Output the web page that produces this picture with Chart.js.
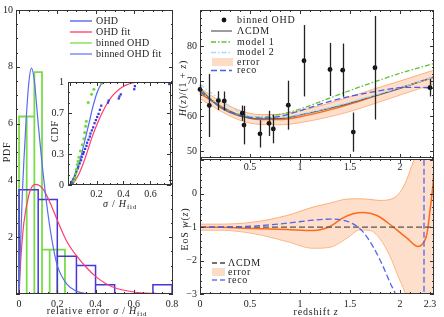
<!DOCTYPE html>
<html>
<head>
<meta charset="utf-8">
<script src="https://cdn.jsdelivr.net/npm/chart.js@4.4.1/dist/chart.umd.min.js"></script>
<style>
  html, body { margin: 0; padding: 0; background: #fff; }
  #wrap { position: relative; width: 444px; height: 317px; overflow: hidden; }
  canvas { position: absolute; }
</style>
</head>
<body>
<div id="wrap">
  <canvas id="pdf" width="184" height="317" style="left:0;top:0"></canvas>
  <canvas id="cdf" width="140" height="142" style="left:40px;top:72px"></canvas>
  <canvas id="eos" width="274" height="167" style="left:170px;top:150px"></canvas>
  <canvas id="hz" width="274" height="180" style="left:170px;top:0"></canvas>
</div>
<script>
// ---- left panel: PDF of relative errors ----
const ohdBinEdges = [0, 0.1, 0.2, 0.3, 0.4, 0.5, 0.6, 0.7, 0.8];
const ohdPdf = [3.67, 3.33, 1.33, 1.0, 0.33, 0, 0, 0.33];
const binnedBinEdges = [0, 0.04, 0.08, 0.12, 0.16, 0.2, 0.24];
const binnedPdf = [6.25, 6.25, 7.81, 1.56, 1.56, 1.56];
const ohdFitX = [0, 0.01, 0.025, 0.05, 0.07, 0.09, 0.11, 0.13, 0.16, 0.2, 0.25, 0.3, 0.35, 0.4, 0.45, 0.5, 0.6, 0.7, 0.8];
const ohdFitPdf = [0, 1.3, 2.5, 3.45, 3.8, 3.86, 3.8, 3.65, 3.25, 2.6, 1.85, 1.35, 0.95, 0.62, 0.38, 0.22, 0.07, 0.02, 0.005];
const binnedFitX = [0, 0.005, 0.017, 0.035, 0.052, 0.065, 0.08, 0.1, 0.12, 0.14, 0.16, 0.18, 0.2, 0.25, 0.3, 0.35, 0.4];
const binnedFitPdf = [0, 1.2, 3.5, 5.9, 7.5, 7.95, 7.5, 6.0, 4.6, 3.4, 2.4, 1.6, 1.0, 0.35, 0.1, 0.02, 0];
const pdfXLabels = [0, 0.2, 0.4, 0.6, 0.8];
const pdfYLabels = [2, 4, 6, 8, 10];

// ---- inset: CDF ----
const ohdCdfX = [0.02, 0.025, 0.03, 0.04, 0.045, 0.05, 0.06, 0.065, 0.075, 0.085, 0.09, 0.1, 0.105, 0.115, 0.125, 0.13, 0.14, 0.15, 0.155, 0.165, 0.175, 0.185, 0.195, 0.205, 0.215, 0.225, 0.235, 0.285, 0.29, 0.365, 0.37, 0.38, 0.48, 0.485, 0.74];
const ohdCdfY = [0.02, 0.04, 0.06, 0.09, 0.11, 0.13, 0.16, 0.18, 0.21, 0.24, 0.27, 0.30, 0.32, 0.35, 0.38, 0.41, 0.44, 0.47, 0.50, 0.53, 0.56, 0.60, 0.63, 0.66, 0.69, 0.73, 0.77, 0.80, 0.82, 0.84, 0.86, 0.88, 0.93, 0.96, 0.98];
const binnedCdfX = [0.02, 0.03, 0.04, 0.045, 0.05, 0.057, 0.063, 0.069, 0.08, 0.094, 0.106, 0.112, 0.119, 0.124, 0.138, 0.163, 0.18, 0.237];
const binnedCdfY = [0.0, 0.04, 0.07, 0.11, 0.15, 0.2, 0.23, 0.27, 0.33, 0.39, 0.45, 0.51, 0.57, 0.62, 0.8, 0.88, 0.93, 0.99];
const ohdFitCdfX = [0.02, 0.07, 0.119, 0.168, 0.218, 0.267, 0.316, 0.366, 0.415, 0.477, 0.563, 0.76];
const ohdFitCdfY = [0, 0.11, 0.275, 0.47, 0.634, 0.765, 0.863, 0.928, 0.967, 0.993, 1.0, 1.0];
const binnedFitCdfX = [0, 0.044, 0.081, 0.107, 0.144, 0.173, 0.205, 0.237, 0.28, 0.76];
const binnedFitCdfY = [0, 0.11, 0.26, 0.40, 0.60, 0.76, 0.90, 0.98, 1.0, 1.0];
const cdfXLabels = [0.2, 0.4, 0.6];
const cdfYLabels = [0, 0.3, 0.7, 1];

// ---- top right: H(z)/(1+z) ----
const ohdZ = [0.0, 0.093, 0.183, 0.243, 0.423, 0.44, 0.6, 0.69, 0.733, 0.883, 1.04, 1.3, 1.427, 1.533, 1.75, 2.3];
const ohdH = [67.6, 63.0, 64.4, 64.3, 60.8, 57.4, 54.9, 57.9, 56.3, 63.1, 75.8, 73.3, 73.1, 55.4, 73.8, 68.1];
const ohdErr = [1.5, 9.0, 2.7, 2.7, 2.2, 5.5, 3.9, 3.6, 4.1, 7.0, 10.2, 7.6, 7.6, 5.6, 14.8, 2.5];
const curveZ = [0, 0.2, 0.4, 0.6, 0.8, 1.0, 1.25, 1.5, 1.75, 2.0, 2.34];
const lcdmH = [67.7, 62.5, 60.0, 59.2, 59.3, 60.3, 61.9, 63.7, 65.8, 67.9, 71.2];
const meanH = [66.5, 62.9, 60.2, 59.0, 59.0, 59.8, 61.4, 63.4, 65.7, 68.0, 71.1];
const upperH = [68.0, 64.3, 61.6, 60.4, 60.5, 61.5, 63.3, 65.5, 67.8, 70.0, 73.1];
const lowerH = [65.0, 61.5, 58.8, 57.6, 57.5, 58.1, 59.5, 61.3, 63.6, 66.0, 69.2];
const model1H = [67.7, 62.8, 60.3, 59.7, 60.5, 62.0, 64.6, 67.3, 69.8, 72.2, 75.0];
const model2H = [69.0, 64.8, 61.0, 59.6, 59.6, 60.5, 62.1, 64.0, 66.0, 68.1, 71.2];
const recoZ = [0, 0.2, 0.4, 0.6, 0.8, 1.0, 1.25, 1.5, 1.75, 2.0, 2.15, 2.34];
const recoH = [67.0, 62.8, 60.2, 59.4, 59.9, 61.5, 63.8, 65.6, 67.0, 68.1, 68.2, 68.0];
const hzXLabels = [0.5, 1, 1.5, 2];
const hzYLabels = [50, 60, 70, 80];

// ---- bottom right: w(z) ----
const bandZ = [0, 0.2, 0.53, 0.87, 1.13, 1.3, 1.47, 1.6, 1.7, 1.8, 1.9, 1.98, 2.05, 2.12, 2.2, 2.34];
const upperW = [-0.91, -0.91, -0.85, -0.65, -0.40, -0.28, -0.16, -0.15, -0.17, -0.20, -0.17, -0.03, 0.3, 0.85, 1.5, 3.0];
const lowerW = [-1.09, -1.09, -1.19, -1.43, -1.63, -1.6, -1.33, -1.08, -1.1, -1.35, -1.87, -2.46, -2.95, -3.6, -4.3, -6.0];
const meanWZ = [0, 0.2, 0.53, 0.87, 1.13, 1.3, 1.43, 1.53, 1.63, 1.77, 1.93, 2.07, 2.18, 2.22, 2.27, 2.3, 2.33, 2.35];
const meanW = [-1.0, -1.0, -1.04, -1.07, -1.1, -0.98, -0.72, -0.6, -0.56, -0.65, -0.99, -1.33, -1.58, -1.52, -1.19, -0.5, 0.28, 1.2];
const recoWZ = [0, 0.2, 0.53, 0.87, 1.13, 1.3, 1.43, 1.53, 1.63, 1.73, 1.83, 1.9, 1.95, 2.0];
const recoW = [-1.0, -0.99, -0.97, -0.88, -0.79, -0.76, -0.79, -0.9, -1.14, -1.58, -2.17, -2.66, -2.97, -3.4];
const recoPoleZ = [2.24, 2.24];
const recoPoleW = [-3.2, 1.2];
const lcdmWZ = [0, 2.34];
const lcdmW = [-1, -1];
const eosXLabels = [0, 0.5, 1, 1.5, 2, 2.3];
const eosYLabels = [-3, -2, -1, 0];

const SERIF = '"Liberation Serif", "Times New Roman", serif';
const INK = '#222';
const BAND_FILL = 'rgba(252, 196, 160, 0.55)';
const BAND_EDGE = '#ffae7a';

const pts = (xs, ys) => xs.map((x, i) => ({ x, y: ys[i] }));

// rectangle outline for every non-empty bin
function histOutline(edges, heights) {
  const out = [];
  heights.forEach((h, i) => {
    if (h <= 0) { out.push({ x: edges[i], y: null }); return; }
    out.push({ x: edges[i], y: 0 }, { x: edges[i], y: h }, { x: edges[i + 1], y: h }, { x: edges[i + 1], y: 0 });
  });
  return out;
}

function fmtTick(v) {
  return v < 0 ? '\u2212' + Math.abs(v) : String(v);
}

function linAxis(pos, min, max, labels, size, pad) {
  return {
    type: 'linear', position: pos, min, max,
    afterBuildTicks: s => { s.ticks = labels.map(v => ({ value: v })); },
    afterFit: s => { if (pos === 'bottom') s.height = size; else s.width = size; },
    grid: { display: false, drawTicks: false },
    border: { display: false },
    ticks: { autoSkip: false, maxRotation: 0, padding: pad, color: INK, font: { family: SERIF, size: 10 }, callback: v => fmtTick(v) }
  };
}

// frame with inward ticks on all four sides
const framePlugin = {
  id: 'frame',
  afterDatasetsDraw(chart, args, o) {
    const { ctx, chartArea: a, scales: { x, y } } = chart;
    ctx.save();
    ctx.strokeStyle = '#333';
    ctx.lineWidth = 1;
    ctx.strokeRect(a.left + 0.5, a.top + 0.5, a.right - a.left - 1, a.bottom - a.top - 1);
    const steps = (min, max, step) => {
      const r = [];
      for (let k = Math.ceil(min / step - 1e-9); k * step <= max + 1e-9; k++) r.push(k * step);
      return r;
    };
    const xt = (vals, len) => vals.forEach(v => {
      if (v < x.min || v > x.max) return;
      const p = Math.round(x.getPixelForValue(v)) + 0.5;
      ctx.beginPath();
      ctx.moveTo(p, a.bottom); ctx.lineTo(p, a.bottom - len);
      ctx.moveTo(p, a.top); ctx.lineTo(p, a.top + len);
      ctx.stroke();
    });
    const yt = (vals, len) => vals.forEach(v => {
      if (v < y.min || v > y.max) return;
      const p = Math.round(y.getPixelForValue(v)) + 0.5;
      ctx.beginPath();
      ctx.moveTo(a.left, p); ctx.lineTo(a.left + len, p);
      ctx.moveTo(a.right, p); ctx.lineTo(a.right - len, p);
      ctx.stroke();
    });
    xt(steps(x.min, x.max, o.xStep), 2);
    yt(steps(y.min, y.max, o.yStep), 2);
    xt(o.xMajor, 4);
    yt(o.yMajor, 4);
    ctx.restore();
  }
};

function partFont(p, size) {
  return (p.italic ? 'italic ' : '') + (p.sub ? Math.round(size * 0.7) : size) + 'px ' + SERIF;
}

function drawRich(ctx, parts, x, y, rotate, align, size, spacing) {
  ctx.save();
  ctx.translate(x, y);
  if (rotate) ctx.rotate(-Math.PI / 2);
  ctx.letterSpacing = spacing + 'px';
  ctx.fillStyle = INK;
  ctx.textBaseline = 'middle';
  let w = 0;
  const widths = parts.map(p => { ctx.font = partFont(p, size); const m = ctx.measureText(p.t).width; w += m; return m; });
  let cx = align === 'left' ? 0 : -w / 2;
  parts.forEach((p, i) => {
    ctx.font = partFont(p, size);
    ctx.fillText(p.t, cx, p.sub ? 3 : 0);
    cx += widths[i];
  });
  ctx.restore();
}

// axis titles, in page coordinates
const textPlugin = {
  id: 'texts',
  afterDraw(chart, args, o) {
    const [ox, oy] = o.offset;
    o.items.forEach(it => drawRich(chart.ctx, it.parts, it.x - ox, it.y - oy, it.rotate, 'center', it.size || 10, 0.8));
  }
};

// hand placed legends, in page coordinates
const keyPlugin = {
  id: 'keys',
  afterDraw(chart, args, o) {
    const ctx = chart.ctx;
    const [ox, oy] = o.offset;
    o.items.forEach(it => {
      const y = it.y - oy;
      ctx.save();
      if (it.kind === 'rect') {
        ctx.fillStyle = it.color;
        ctx.fillRect(it.x1 - ox, y - 4, it.x2 - it.x1, 8);
      } else if (it.kind === 'dot') {
        ctx.fillStyle = it.color;
        ctx.beginPath();
        ctx.arc((it.x1 + it.x2) / 2 - ox, y, 2.4, 0, Math.PI * 2);
        ctx.fill();
      } else {
        ctx.strokeStyle = it.color;
        ctx.lineWidth = it.lw || 1.3;
        ctx.setLineDash(it.dash || []);
        ctx.beginPath();
        ctx.moveTo(it.x1 - ox, y); ctx.lineTo(it.x2 - ox, y);
        ctx.stroke();
      }
      ctx.restore();
      drawRich(ctx, [{ t: it.text }], o.tx - ox, y, false, 'left', 10, o.spacing);
    });
  }
};

// vertical error bars for the binned OHD points
const errPlugin = {
  id: 'errbars',
  afterDatasetsDraw(chart, args, o) {
    if (!o.z) return;
    const { ctx, scales: { x, y } } = chart;
    ctx.save();
    ctx.strokeStyle = INK;
    ctx.lineWidth = 1.3;
    o.z.forEach((z, i) => {
      const p = Math.round(x.getPixelForValue(z)) + 0.5;
      ctx.beginPath();
      ctx.moveTo(p, y.getPixelForValue(o.h[i] - o.err[i]));
      ctx.lineTo(p, y.getPixelForValue(o.h[i] + o.err[i]));
      ctx.stroke();
    });
    ctx.restore();
  }
};

const base = {
  responsive: false,
  animation: false,
  events: [],
};
const quiet = { legend: { display: false }, tooltip: { enabled: false } };
const curve = (data, color, extra) => Object.assign({
  data, showLine: true, borderColor: color, borderWidth: 1.2, pointRadius: 0,
  cubicInterpolationMode: 'monotone', fill: false
}, extra || {});

// ---------- PDF ----------
new Chart(document.getElementById('pdf'), {
  type: 'scatter',
  data: {
    datasets: [
      curve(pts(binnedFitX, binnedFitPdf), '#5a6cf2'),
      curve(pts(ohdFitX, ohdFitPdf), '#ff3c6e'),
      { data: histOutline(ohdBinEdges, ohdPdf), showLine: true, borderColor: '#4636dc', borderWidth: 1.5, pointRadius: 0, spanGaps: false },
      { data: histOutline(binnedBinEdges, binnedPdf), showLine: true, borderColor: '#7adc4a', borderWidth: 1.8, pointRadius: 0, spanGaps: false }
    ]
  },
  options: Object.assign({}, base, {
    layout: { padding: { top: 10, right: 11, left: 0, bottom: 0 } },
    scales: {
      x: linAxis('bottom', -0.016, 0.805, pdfXLabels, 23, 4),
      y: linAxis('left', 0, 10, pdfYLabels, 16, 3)
    },
    plugins: Object.assign({}, quiet, {
      frame: { xMajor: [0, 0.2, 0.4, 0.6, 0.8], xStep: 0.05, yMajor: [0, 2, 4, 6, 8, 10], yStep: 0.5 },
      texts: {
        offset: [0, 0],
        items: [
          { parts: [{ t: 'PDF' }], x: 7, y: 152, rotate: true },
          { parts: [{ t: 'relative error ' }, { t: 'σ', italic: true }, { t: ' / ' }, { t: 'H', italic: true }, { t: 'fid', sub: true }], x: 97, y: 311 }
        ]
      },
      keys: {
        offset: [0, 0], tx: 96, spacing: 0.2,
        items: [
          { kind: 'line', x1: 70, x2: 92, y: 21, color: '#4a5af0', text: 'OHD' },
          { kind: 'line', x1: 70, x2: 92, y: 32, color: '#ff3c6e', text: 'OHD fit' },
          { kind: 'line', x1: 70, x2: 92, y: 43, color: '#7adc4a', text: 'binned OHD' },
          { kind: 'line', x1: 70, x2: 92, y: 54, color: '#6677ff', text: 'binned OHD fit' }
        ]
      }
    })
  }),
  plugins: [framePlugin, textPlugin, keyPlugin]
});

// ---------- CDF inset ----------
new Chart(document.getElementById('cdf'), {
  type: 'scatter',
  data: {
    datasets: [
      { data: pts(binnedCdfX, binnedCdfY), pointRadius: 1.5, pointBorderWidth: 0, backgroundColor: '#66dd33' },
      { data: pts(ohdCdfX, ohdCdfY), pointStyle: 'rect', pointRadius: 1.6, pointBorderWidth: 0, backgroundColor: '#3a3ae6' },
      curve(pts(binnedFitCdfX, binnedFitCdfY), '#5566f4'),
      curve(pts(ohdFitCdfX, ohdFitCdfY), '#ff3c6e')
    ]
  },
  options: Object.assign({}, base, {
    layout: { padding: { top: 10, right: 9, left: 0, bottom: 0 } },
    scales: {
      x: linAxis('bottom', -0.012, 0.753, cdfXLabels, 29, 3),
      y: linAxis('left', 0, 1, cdfYLabels, 28, 4)
    },
    plugins: Object.assign({}, quiet, {
      frame: { xMajor: [0, 0.2, 0.4, 0.6], xStep: 0.05, yMajor: [0, 0.3, 0.7, 1], yStep: 0.1 },
      texts: {
        offset: [40, 72],
        items: [
          { parts: [{ t: 'CDF' }], x: 55, y: 131, rotate: true },
          { parts: [{ t: 'σ', italic: true }, { t: ' / ' }, { t: 'H', italic: true }, { t: 'fid', sub: true }], x: 120, y: 204 }
        ]
      }
    })
  }),
  plugins: [framePlugin, textPlugin]
});

// ---------- w(z) ----------
new Chart(document.getElementById('eos'), {
  type: 'scatter',
  data: {
    datasets: [
      curve(pts(recoWZ, recoW), '#5566ee', { borderDash: [6, 3], borderWidth: 1.3 }),
      curve(pts(recoPoleZ, recoPoleW), '#5566ee', { borderDash: [6, 3], borderWidth: 1.3, cubicInterpolationMode: 'default', tension: 0 }),
      curve(pts(lcdmWZ, lcdmW), '#555', { borderDash: [6, 3], borderWidth: 1.2, cubicInterpolationMode: 'default', tension: 0 }),
      curve(pts(meanWZ, meanW), '#ff6a1a', { borderWidth: 1.5 }),
      curve(pts(bandZ, upperW), BAND_EDGE, { borderWidth: 1, fill: '+1', backgroundColor: BAND_FILL }),
      curve(pts(bandZ, lowerW), BAND_EDGE, { borderWidth: 1 })
    ]
  },
  options: Object.assign({}, base, {
    layout: { padding: { top: 8, right: 10, left: 0, bottom: 0 } },
    scales: {
      x: linAxis('bottom', 0, 2.34, eosXLabels, 23, 4),
      y: linAxis('left', -3, 1.04, eosYLabels, 30, 3)
    },
    plugins: Object.assign({}, quiet, {
      frame: { xMajor: [0, 0.5, 1, 1.5, 2], xStep: 0.1, yMajor: [-3, -2, -1, 0, 1], yStep: 0.2 },
      texts: {
        offset: [170, 150],
        items: [
          { parts: [{ t: 'EoS ' }, { t: 'w', italic: true }, { t: '(' }, { t: 'z', italic: true }, { t: ')' }], x: 185, y: 229, rotate: true },
          { parts: [{ t: 'redshift ' }, { t: 'z', italic: true }], x: 316, y: 312 }
        ]
      },
      keys: {
        offset: [170, 150], tx: 228, spacing: 0.7,
        items: [
          { kind: 'line', x1: 212, x2: 225, y: 263, color: '#444', dash: [5, 3], text: 'ΛCDM' },
          { kind: 'rect', x1: 212, x2: 225, y: 272, color: 'rgba(252, 196, 160, 0.6)', text: 'error' },
          { kind: 'line', x1: 212, x2: 225, y: 280, color: '#6677ee', dash: [5, 3], text: 'reco' }
        ]
      }
    })
  }),
  plugins: [framePlugin, textPlugin, keyPlugin]
});

// ---------- H(z)/(1+z) ----------
new Chart(document.getElementById('hz'), {
  type: 'scatter',
  data: {
    datasets: [
      { data: pts(ohdZ, ohdH), pointRadius: 2.4, pointBorderWidth: 0, backgroundColor: '#111', clip: false },
      curve(pts(recoZ, recoH), '#4a5cf0', { borderDash: [6, 3], borderWidth: 1.3 }),
      curve(pts(curveZ, model2H), '#a8dcff', { borderDash: [5, 2, 1.5, 2], borderWidth: 1.3 }),
      curve(pts(curveZ, model1H), '#5fc236', { borderDash: [5, 2, 1.5, 2], borderWidth: 1.3 }),
      curve(pts(curveZ, lcdmH), '#666', { borderWidth: 1.3 }),
      curve(pts(curveZ, meanH), '#ff6a1a', { borderWidth: 1.5 }),
      curve(pts(curveZ, upperH), BAND_EDGE, { borderWidth: 1, fill: '+1', backgroundColor: BAND_FILL }),
      curve(pts(curveZ, lowerH), BAND_EDGE, { borderWidth: 1 })
    ]
  },
  options: Object.assign({}, base, {
    layout: { padding: { top: 10, right: 10, left: 0, bottom: 0 } },
    scales: {
      x: linAxis('bottom', 0, 2.34, hzXLabels, 22, 3),
      y: linAxis('left', 48, 90.3, hzYLabels, 30, 3)
    },
    plugins: Object.assign({}, quiet, {
      frame: { xMajor: [0, 0.5, 1, 1.5, 2], xStep: 0.1, yMajor: [50, 60, 70, 80], yStep: 2 },
      errbars: { z: ohdZ, h: ohdH, err: ohdErr },
      texts: {
        offset: [170, 0],
        items: [
          { parts: [{ t: 'H', italic: true }, { t: '(' }, { t: 'z', italic: true }, { t: ')/(1 + ' }, { t: 'z', italic: true }, { t: ')' }], x: 183, y: 88, rotate: true }
        ]
      },
      keys: {
        offset: [170, 0], tx: 237, spacing: 0.7,
        items: [
          { kind: 'dot', x1: 212, x2: 236, y: 20, color: '#111', text: 'binned OHD' },
          { kind: 'line', x1: 211, x2: 232, y: 31, color: '#666', text: 'ΛCDM' },
          { kind: 'line', x1: 211, x2: 232, y: 42, color: '#5fc236', dash: [5, 2, 1.5, 2], text: 'model 1' },
          { kind: 'line', x1: 211, x2: 232, y: 52.5, color: '#a8dcff', dash: [5, 2, 1.5, 2], text: 'model 2' },
          { kind: 'rect', x1: 212, x2: 233, y: 62, color: 'rgba(252, 196, 160, 0.6)', text: 'error' },
          { kind: 'line', x1: 211, x2: 232, y: 70.5, color: '#4a5cf0', dash: [6, 3], text: 'reco' }
        ]
      }
    })
  }),
  plugins: [framePlugin, textPlugin, keyPlugin, errPlugin]
});
</script>
</body>
</html>
